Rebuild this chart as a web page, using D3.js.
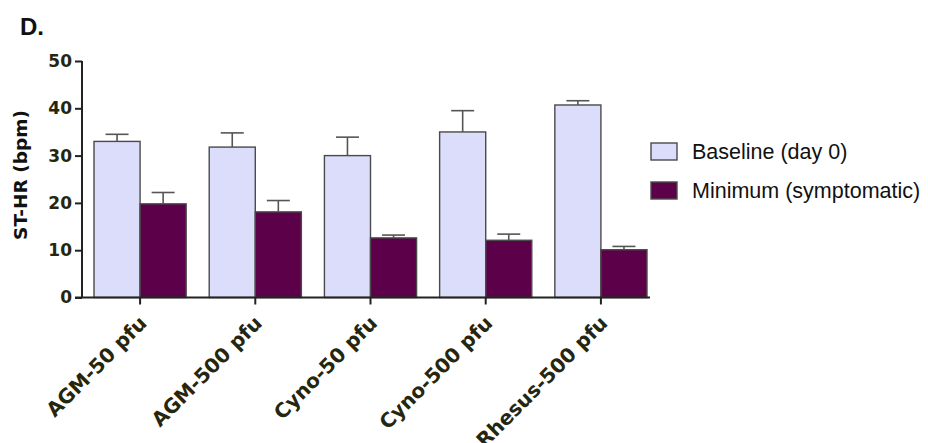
<!DOCTYPE html>
<html>
<head>
<meta charset="utf-8">
<script src="https://cdn.jsdelivr.net/npm/d3@7"></script>
<style>
  html, body { margin: 0; padding: 0; background: #ffffff; }
  svg { display: block; }
</style>
</head>
<body>
<svg id="chart" width="928" height="443"></svg>
<script>
// ---- data ----
const categories = ["AGM-50 pfu", "AGM-500 pfu", "Cyno-50 pfu", "Cyno-500 pfu", "Rhesus-500 pfu"];
const seriesNames = ["Baseline (day 0)", "Minimum (symptomatic)"];
const baselineMean = [33.0, 31.8, 30.0, 35.0, 40.7];
const baselineErr  = [1.5, 3.0, 3.9, 4.5, 0.9];
const minimumMean  = [19.8, 18.1, 12.6, 12.1, 10.1];
const minimumErr   = [2.4, 2.4, 0.6, 1.3, 0.7];
const yTicks = [0, 10, 20, 30, 40, 50];
const seriesColors = ["#dcdcfb", "#5c0049"];

const rows = categories.map((c, i) => ({
  cat: c,
  vals: [
    { s: seriesNames[0], v: baselineMean[i], e: baselineErr[i] },
    { s: seriesNames[1], v: minimumMean[i], e: minimumErr[i] }
  ]
}));

const svg = d3.select("#chart");
const axisColor = "#222222";
const tickTextColor = "#26260f";

const y = d3.scaleLinear().domain([0, 50]).range([297.5, 61]);
const x0 = d3.scaleBand().domain(categories).range([94, 647]).paddingInner(0.2).paddingOuter(0);
const x1 = d3.scaleBand().domain(seriesNames).range([0, x0.bandwidth()]);
const color = d3.scaleOrdinal().domain(seriesNames).range(seriesColors);

// Title
svg.append("text")
  .attr("x", 20).attr("y", 35)
  .attr("font-family", "Liberation Sans, Arial, sans-serif")
  .attr("font-weight", "bold").attr("font-size", 24)
  .attr("fill", "#111").text("D.");

// Bars
const groups = svg.append("g").selectAll("g").data(rows).join("g")
  .attr("transform", d => `translate(${x0(d.cat)},0)`);

groups.selectAll("rect").data(d => d.vals).join("rect")
  .attr("x", d => x1(d.s))
  .attr("y", d => y(d.v))
  .attr("width", x1.bandwidth())
  .attr("height", d => y(0) - y(d.v))
  .attr("fill", d => color(d.s))
  .attr("stroke", "#4a4a4a").attr("stroke-width", 1.4);

// Error bars (upper only)
const capW = 23;
groups.selectAll("line.err").data(d => d.vals).join("line")
  .attr("class", "err")
  .attr("x1", d => x1(d.s) + x1.bandwidth() / 2)
  .attr("x2", d => x1(d.s) + x1.bandwidth() / 2)
  .attr("y1", d => y(d.v))
  .attr("y2", d => y(d.v + d.e))
  .attr("stroke", "#555").attr("stroke-width", 1.6);
groups.selectAll("line.cap").data(d => d.vals).join("line")
  .attr("class", "cap")
  .attr("x1", d => x1(d.s) + x1.bandwidth() / 2 - capW / 2)
  .attr("x2", d => x1(d.s) + x1.bandwidth() / 2 + capW / 2)
  .attr("y1", d => y(d.v + d.e))
  .attr("y2", d => y(d.v + d.e))
  .attr("stroke", "#555").attr("stroke-width", 1.6);

// Y axis
const yAxis = svg.append("g").attr("transform", "translate(82,0)")
  .call(d3.axisLeft(y).tickValues(yTicks).tickSize(7).tickPadding(3));
yAxis.select(".domain").attr("stroke", axisColor).attr("stroke-width", 2).attr("d", `M0,${y(50)}V${y(0)}`);
yAxis.selectAll(".tick line").attr("stroke", axisColor).attr("stroke-width", 2);
yAxis.selectAll(".tick text")
  .attr("font-family", "DejaVu Sans, sans-serif").attr("font-weight", "bold")
  .attr("font-size", 17).attr("fill", tickTextColor);

// X axis
const xAxis = svg.append("g").attr("transform", `translate(0,${y(0)})`)
  .call(d3.axisBottom(x0).tickSize(7).tickSizeOuter(0));
xAxis.select(".domain").attr("stroke", axisColor).attr("stroke-width", 2).attr("d", "M75,0H650");
xAxis.selectAll(".tick line").attr("stroke", axisColor).attr("stroke-width", 2);
xAxis.selectAll(".tick text")
  .attr("font-family", "DejaVu Sans, sans-serif").attr("font-weight", "bold")
  .attr("font-size", 20).attr("fill", tickTextColor)
  .attr("text-anchor", "end").attr("dy", null).attr("y", 0)
  .attr("transform", "translate(8,27) rotate(-45)");

// Y label
svg.append("text")
  .attr("transform", "translate(27,175) rotate(-90)")
  .attr("text-anchor", "middle")
  .attr("font-family", "DejaVu Sans, sans-serif").attr("font-weight", "bold")
  .attr("font-size", 18.5).attr("fill", "#111")
  .text("ST-HR (bpm)");

// Legend
const legend = svg.append("g").selectAll("g").data(seriesNames).join("g")
  .attr("transform", (d, i) => `translate(651,${143 + i * 39})`);
legend.append("rect")
  .attr("width", 26).attr("height", 17)
  .attr("fill", d => color(d))
  .attr("stroke", "#4a4a4a").attr("stroke-width", 1.4);
legend.append("text")
  .attr("x", 41).attr("y", 16)
  .attr("font-family", "Liberation Sans, Arial, sans-serif")
  .attr("font-size", 21.5).attr("fill", "#111")
  .text(d => d);
</script>
</body>
</html>
